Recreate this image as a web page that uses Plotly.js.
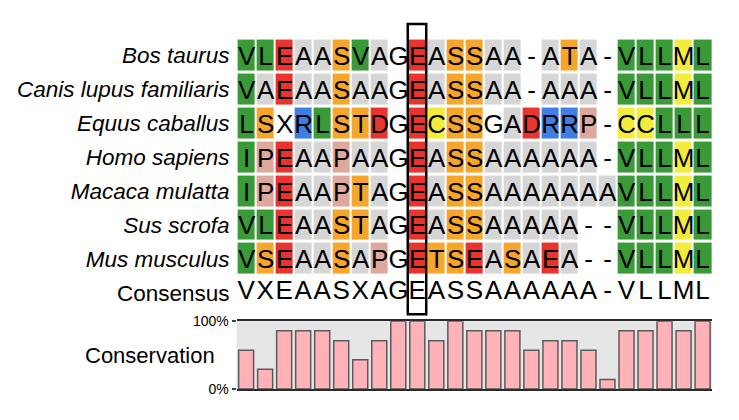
<!DOCTYPE html>
<html>
<head>
<meta charset="utf-8">
<script src="https://cdn.plot.ly/plotly-3.0.1.min.js"></script>
<style>
  html, body { margin: 0; padding: 0; background: #fff; }
  #plot { width: 739px; height: 420px; }
</style>
</head>
<body>
<div id="plot"></div>
<script>
const species = ['Bos taurus', 'Canis lupus familiaris', 'Equus caballus', 'Homo sapiens',
    'Macaca mulatta', 'Sus scrofa', 'Mus musculus'];
const sequences = [
    'VLEAASVAGEASSAA-ATA-VLLML',
    'VAEAASAAGEASSAA-AAA-VLLML',
    'LSXRLSTDGECSSGADRRP-CCLLL',
    'IPEAAPAAGEASSAAAAAA-VLLML',
    'IPEAAPTAGEASSAAAAAAAVLLML',
    'VLEAASTAGEASSAAAAA--VLLML',
    'VSEAASAPGETSEASAEA--VLLML'
];
const consensus = 'VXEAASXAGEASSAAAAAA-VLLML';
const conservation = [57, 29, 86, 86, 86, 71, 43, 71, 100, 100, 71, 100, 86, 86, 86, 57, 71, 71, 57, 14, 86, 86, 100, 86, 100];
const highlightCol = 9;

// residue groups -> background colour
const groupResidues = ['GX-', 'A', 'VLI', 'MC', 'ED', 'ST', 'R', 'P'];
const groupColors = ['#ffffff', '#d6d6d6', '#3a9a38', '#f2ec3c', '#e8332e', '#f6a62a', '#3f7fe3', '#dea89c'];

const W = 739, H = 420;
const xDomain = [236.6 / W, 712.1 / W];

function groupOf(ch) {
    return groupResidues.findIndex(g => g.includes(ch));
}

const cols = consensus.split('').map((c, i) => i);
const z = sequences.map(s => s.split('').map(groupOf));
const letters = sequences.map(s => s.split(''));

const n = groupColors.length;
let colorscale = [];
groupColors.forEach((c, i) => {
    colorscale.push([i / n, c]);
    colorscale.push([(i + 1) / n, c]);
});

const letterFont = { family: 'Liberation Sans, Arial, sans-serif', size: 26, color: '#000' };

const heat = {
    type: 'heatmap',
    x: cols,
    y: species.map((s, i) => i),
    z: z,
    text: letters,
    texttemplate: '%{text}',
    textfont: letterFont,
    colorscale: colorscale,
    zmin: -0.5,
    zmax: n - 0.5,
    showscale: false,
    xgap: 2,
    ygap: 3,
    hoverinfo: 'skip'
};

const consTrace = {
    type: 'scatter',
    mode: 'text',
    x: cols,
    y: cols.map(() => species.length),
    text: consensus.split(''),
    textfont: letterFont,
    hoverinfo: 'skip'
};

const bars = {
    type: 'bar',
    x: cols,
    y: conservation,
    xaxis: 'x2',
    yaxis: 'y2',
    width: 0.79,
    marker: { color: '#ffb3b8', line: { color: '#5a5a5a', width: 1.5 } },
    hoverinfo: 'skip'
};

const rowLabels = species.map(s => '<i>' + s + '</i>').concat(['Consensus']);

const layout = {
    width: W,
    height: H,
    margin: { l: 0, r: 0, t: 0, b: 0 },
    paper_bgcolor: '#fff',
    plot_bgcolor: 'rgba(0,0,0,0)',
    showlegend: false,
    font: { family: 'Liberation Sans, Arial, sans-serif', color: '#000' },
    xaxis: {
        domain: xDomain, range: [-0.5, 24.5], anchor: 'y',
        showgrid: false, zeroline: false, showticklabels: false, ticks: ''
    },
    yaxis: {
        domain: [1 - 309.75 / H, 1 - 38.55 / H], range: [7.5, -0.5], anchor: 'x',
        showgrid: false, zeroline: false, ticks: '',
        tickvals: rowLabels.map((s, i) => i), ticktext: rowLabels,
        tickfont: { size: 22.5, color: '#000' }, ticklabelstandoff: 6
    },
    xaxis2: {
        domain: xDomain, range: [-0.5, 24.5], anchor: 'y2',
        showgrid: false, zeroline: false, showticklabels: false, ticks: '',
        showline: true, mirror: true, linecolor: '#2a2a2a', linewidth: 2
    },
    yaxis2: {
        domain: [1 - 389 / H, 1 - 321.2 / H], range: [0, 100], anchor: 'x2',
        showgrid: false, zeroline: false, showline: false,
        tickvals: [0, 100], ticktext: ['0%', '100%'],
        ticks: 'outside', ticklen: 4, tickcolor: '#444', tickwidth: 2,
        tickfont: { size: 14, color: '#000' }
    },
    shapes: [
        {
            type: 'rect', xref: 'x2 domain', yref: 'y2 domain', x0: 0, x1: 1, y0: 0, y1: 1,
            fillcolor: '#e6e6e6', line: { width: 0 }, layer: 'below'
        },
        {
            type: 'rect', xref: 'x', yref: 'paper',
            x0: highlightCol - 0.5, x1: highlightCol + 0.47,
            y0: 1 - 314.3 / H, y1: 1 - 24 / H,
            line: { color: '#000', width: 2.5 }, fillcolor: 'rgba(0,0,0,0)'
        }
    ],
    annotations: [
        {
            text: 'Conservation', xref: 'paper', yref: 'paper',
            x: 217 / W, y: 1 - 355 / H, xanchor: 'right', yanchor: 'middle',
            showarrow: false, font: { size: 22, color: '#000' }
        }
    ]
};

Plotly.newPlot('plot', [heat, consTrace, bars], layout, { displayModeBar: false, staticPlot: true });
</script>
</body>
</html>
